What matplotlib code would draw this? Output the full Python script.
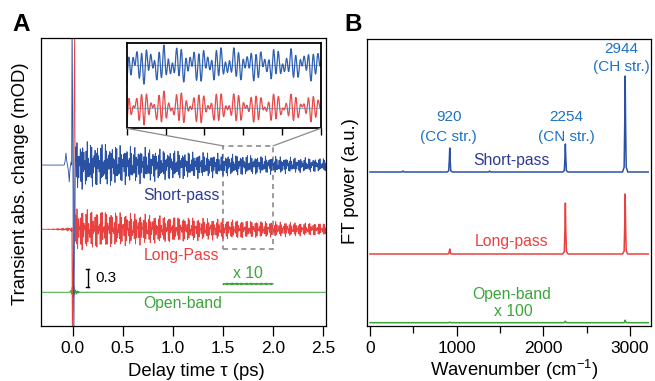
import numpy as np
import matplotlib.pyplot as plt
from matplotlib.patches import Rectangle, ConnectionPatch

plt.rcParams['font.family'] = ['Liberation Sans', 'DejaVu Sans']
plt.rcParams['mathtext.fontset'] = 'custom'
plt.rcParams['mathtext.rm'] = 'Liberation Sans'
plt.rcParams['mathtext.default'] = 'regular'

# ---- panel A data: vibrational modes seen in the traces ----
mode_cm = [920, 2254, 2944]          # cm-1
mode_phase = [0.0, 0.6, 1.2]         # rad
mode_tau = [1.7, 2.0, 1.9]           # ps, damping
short_amp = [0.11, 0.12, 0.22]       # mOD
long_amp = [0.05, 0.16, 0.17]
open_amp = [0.0006, 0.0012, 0.0018]

short_off, long_off, open_off = 2.12, 1.05, 0.0
long_pre_scale, long_pre_rise = 0.12, 0.12   # perturbed FID before t=0

# pre-zero / coherent artifact points (ps, mOD above baseline)
short_pre_t = [-0.316, -0.085, -0.076, -0.067, -0.06, -0.05, -0.042, -0.034, -0.026, -0.016, -0.01, -0.006, 0.012, 0.02, 0.026]
short_pre_v = [0.0, 0.0, 0.06, 0.2, 0.08, -0.02, -0.1, -0.28, -0.05, 0.05, 0.0, 2.5, -3.0, -0.45, 0.1]
long_spike_t = [-0.008, -0.003, 0.02, 0.026]
long_spike_v = [0.02, -2.0, 3.5, -0.2]
open_spike_t = [-0.03, -0.02, -0.012, -0.006, 0.0, 0.004, 0.008, 0.014, 0.02, 0.03, 0.04, 0.05, 0.06, 0.07]
open_spike_v = [0.0, 0.03, -0.03, 0.08, -0.05, 0.18, -0.07, 0.1, -0.04, 0.04, -0.03, 0.02, -0.01, 0.0]

t_start, t_end, t_step = -0.316, 2.53, 0.001
zoom_win = [1.5, 2.0]
zoom_box_y = [0.72, 2.44]
x10_off = 0.14

# ---- panel B data: FT power peaks ----
peak_cm = [380, 920, 1380, 2254, 2944]
short_peak = [1.0, 24, 1.0, 28, 96]
long_peak = [0.0, 5, 0.0, 51, 60]
open_peak = [0.0, 0.6, 0.0, 1.5, 2.5]
spec_base = [153.7, 71.7, 3.0]
spec_range = [0, 3210]
peak_shape_dx = [-30, -12, -5, 0, 5, 12, 30]
peak_shape_y = [0, 0.05, 0.5, 1, 0.5, 0.05, 0]

c_blue, c_red, c_green = '#2a52a4', '#e8413f', '#3aa53a'
c_navy, c_lblue = '#2e3a92', '#1f72c4'
C_CM_PS = 0.029979  # cm/ps


def osc(t, amps):
    y = np.zeros_like(t)
    for nu, ph, tau, a in zip(mode_cm, mode_phase, mode_tau, amps):
        y += a * np.exp(-t / tau) * np.cos(2 * np.pi * C_CM_PS * nu * t + ph)
    return y


t_osc = np.arange(0.03, t_end, t_step)
t_neg = np.arange(t_start, -0.008, t_step)

short_t = np.concatenate([short_pre_t, t_osc])
short_y = np.concatenate([short_pre_v, osc(t_osc, short_amp)]) + short_off

long_pre = long_pre_scale * osc(t_neg, long_amp) * np.exp(t_neg / long_pre_rise)
long_t = np.concatenate([t_neg, long_spike_t, t_osc])
long_y = np.concatenate([long_pre, long_spike_v, osc(t_osc, long_amp)]) + long_off

open_t = np.concatenate([[t_start], open_spike_t, t_osc])
open_y = np.concatenate([[0.0], open_spike_v, osc(t_osc, open_amp)]) + open_off

fig = plt.figure(figsize=(6.55, 3.81), dpi=100)
axA = fig.add_axes([41 / 655, 1 - 325.7 / 381, 284.7 / 655, 288 / 381])
axB = fig.add_axes([366.7 / 655, 1 - 325.7 / 381, 284.3 / 655, 287.2 / 381])
ins = fig.add_axes([126.7 / 655, 1 - 128.3 / 381, 194 / 655, 85 / 381])

# ---- panel A ----
axA.plot(open_t, open_y, color=c_green, lw=0.7)
axA.plot(long_t, long_y, color=c_red, lw=0.6)
axA.plot(short_t, short_y, color=c_blue, lw=0.6)

m = (t_osc >= zoom_win[0]) & (t_osc <= zoom_win[1])
axA.plot(t_osc[m], open_off + x10_off + 10 * osc(t_osc[m], open_amp), color=c_green, lw=0.8)

axA.add_patch(Rectangle((zoom_win[0], zoom_box_y[0]), zoom_win[1] - zoom_win[0],
                        zoom_box_y[1] - zoom_box_y[0], fill=False, ec='#8a8a8a',
                        lw=1.2, ls=(0, (3, 2.5))))
axA.plot([0.15, 0.15], [0.093, 0.388], color='k', lw=1.0)
axA.plot([0.135, 0.165], [0.093, 0.093], color='k', lw=1.0)
axA.plot([0.135, 0.165], [0.388, 0.388], color='k', lw=1.0)
axA.text(0.223, 0.24, '0.3', fontsize=11, va='center', ha='left')

axA.text(1.09, 1.62, 'Short-pass', color=c_navy, fontsize=11.3, ha='center', va='center')
axA.text(1.09, 0.605, 'Long-Pass', color=c_red, fontsize=11.3, ha='center', va='center')
axA.text(1.096, -0.195, 'Open-band', color=c_green, fontsize=11.3, ha='center', va='center')
axA.text(1.75, 0.32, 'x 10', color=c_green, fontsize=11.3, ha='center', va='center')

axA.set_xlim(t_start, 2.525)
axA.set_ylim(-0.557, 4.243)
axA.set_xticks([0, 0.5, 1.0, 1.5, 2.0, 2.5])
axA.set_yticks([])
axA.tick_params(axis='x', direction='out', length=7, width=0.9, labelsize=12.5, pad=4)
for s in axA.spines.values():
    s.set_linewidth(0.9)

# ---- inset ----
ins_red_off = -0.407
ins.axhline(0, color='#6ec6f0', lw=0.8)
ins.axhline(ins_red_off, color='#6ec6f0', lw=0.8)
mi = (t_osc >= zoom_win[0] - 0.01) & (t_osc <= zoom_win[1] + 0.01)
ins.plot(t_osc[mi], osc(t_osc[mi], short_amp), color='#2f5fb0', lw=0.9)
ins.plot(t_osc[mi], osc(t_osc[mi], long_amp) + ins_red_off, color='#e84a4a', lw=0.9)
ins.set_xlim(zoom_win)
ins.set_ylim(-0.6, 0.2)
ins.set_xticks(np.arange(1.5, 2.01, 0.1))
ins.set_xticklabels([])
ins.set_yticks([])
ins.tick_params(axis='x', direction='out', length=5, width=1.0)
for s in ins.spines.values():
    s.set_linewidth(1.3)

for xa, xb in [(0, zoom_win[0]), (1, zoom_win[1])]:
    con = ConnectionPatch(xyA=(xa, 0), coordsA=ins.transAxes,
                          xyB=(xb, zoom_box_y[1]), coordsB=axA.transData,
                          color='#8a8a8a', lw=0.9)
    fig.add_artist(con)

# ---- panel B ----
def spectrum(base, heights):
    xs, ys = [spec_range[0]], [base]
    for pos, h in zip(peak_cm, heights):
        for dx, r in zip(peak_shape_dx, peak_shape_y):
            xs.append(pos + dx)
            ys.append(base + h * r)
    xs.append(spec_range[1])
    ys.append(base)
    return xs, ys


for heights, base, col in [(short_peak, spec_base[0], c_blue),
                           (long_peak, spec_base[1], c_red),
                           (open_peak, spec_base[2], c_green)]:
    xs, ys = spectrum(base, heights)
    axB.plot(xs, ys, color=col, lw=1.1)

axB.text(909, 209, '920', color=c_lblue, fontsize=11, ha='center', va='center')
axB.text(900, 189, '(CC str.)', color=c_lblue, fontsize=11, ha='center', va='center')
axB.text(2264, 209, '2254', color=c_lblue, fontsize=11, ha='center', va='center')
axB.text(2265, 189, '(CN str.)', color=c_lblue, fontsize=11, ha='center', va='center')
axB.text(2902, 276.7, '2944', color=c_lblue, fontsize=11, ha='center', va='center')
axB.text(2895, 258.7, '(CH str.)', color=c_lblue, fontsize=11, ha='center', va='center')
axB.text(1635, 165, 'Short-pass', color=c_navy, fontsize=11.3, ha='center', va='center')
axB.text(1633, 84, 'Long-pass', color=c_red, fontsize=11.3, ha='center', va='center')
axB.text(1631, 30.7, 'Open-band', color=c_green, fontsize=11.3, ha='center', va='center')
axB.text(1650, 14.7, 'x 100', color=c_green, fontsize=11.3, ha='center', va='center')

axB.set_xlim(-38, 3242)
axB.set_ylim(0, 287.2)
axB.set_xticks([0, 1000, 2000, 3000])
axB.set_xticks([500, 1500, 2500], minor=True)
axB.set_yticks([])
axB.tick_params(axis='x', which='major', direction='out', length=7, width=0.9, labelsize=12.5, pad=4)
axB.tick_params(axis='x', which='minor', direction='out', length=5, width=0.9)
for s in axB.spines.values():
    s.set_linewidth(0.9)

# ---- labels ----
fig.text(196 / 655, 1 - 376.5 / 381, 'Delay time τ (ps)', fontsize=13.3, ha='center', va='baseline')
fig.text(514 / 655, 1 - 376.5 / 381, r'Wavenumber (cm$^{-1}$)', fontsize=13.3, ha='center', va='baseline')
fig.text(20.5 / 655, 1 - 183.5 / 381, 'Transient abs. change (mOD)', fontsize=13.3,
         rotation=90, ha='center', va='center')
fig.text(350.5 / 655, 1 - 181.5 / 381, 'FT power (a.u.)', fontsize=13.3,
         rotation=90, ha='center', va='center')
fig.text(21.5 / 655, 1 - 24.5 / 381, 'A', fontsize=17.5, fontweight='bold', ha='center', va='center')
fig.text(353.5 / 655, 1 - 24.5 / 381, 'B', fontsize=17.5, fontweight='bold', ha='center', va='center')

fig.savefig('out.png', dpi=100)
